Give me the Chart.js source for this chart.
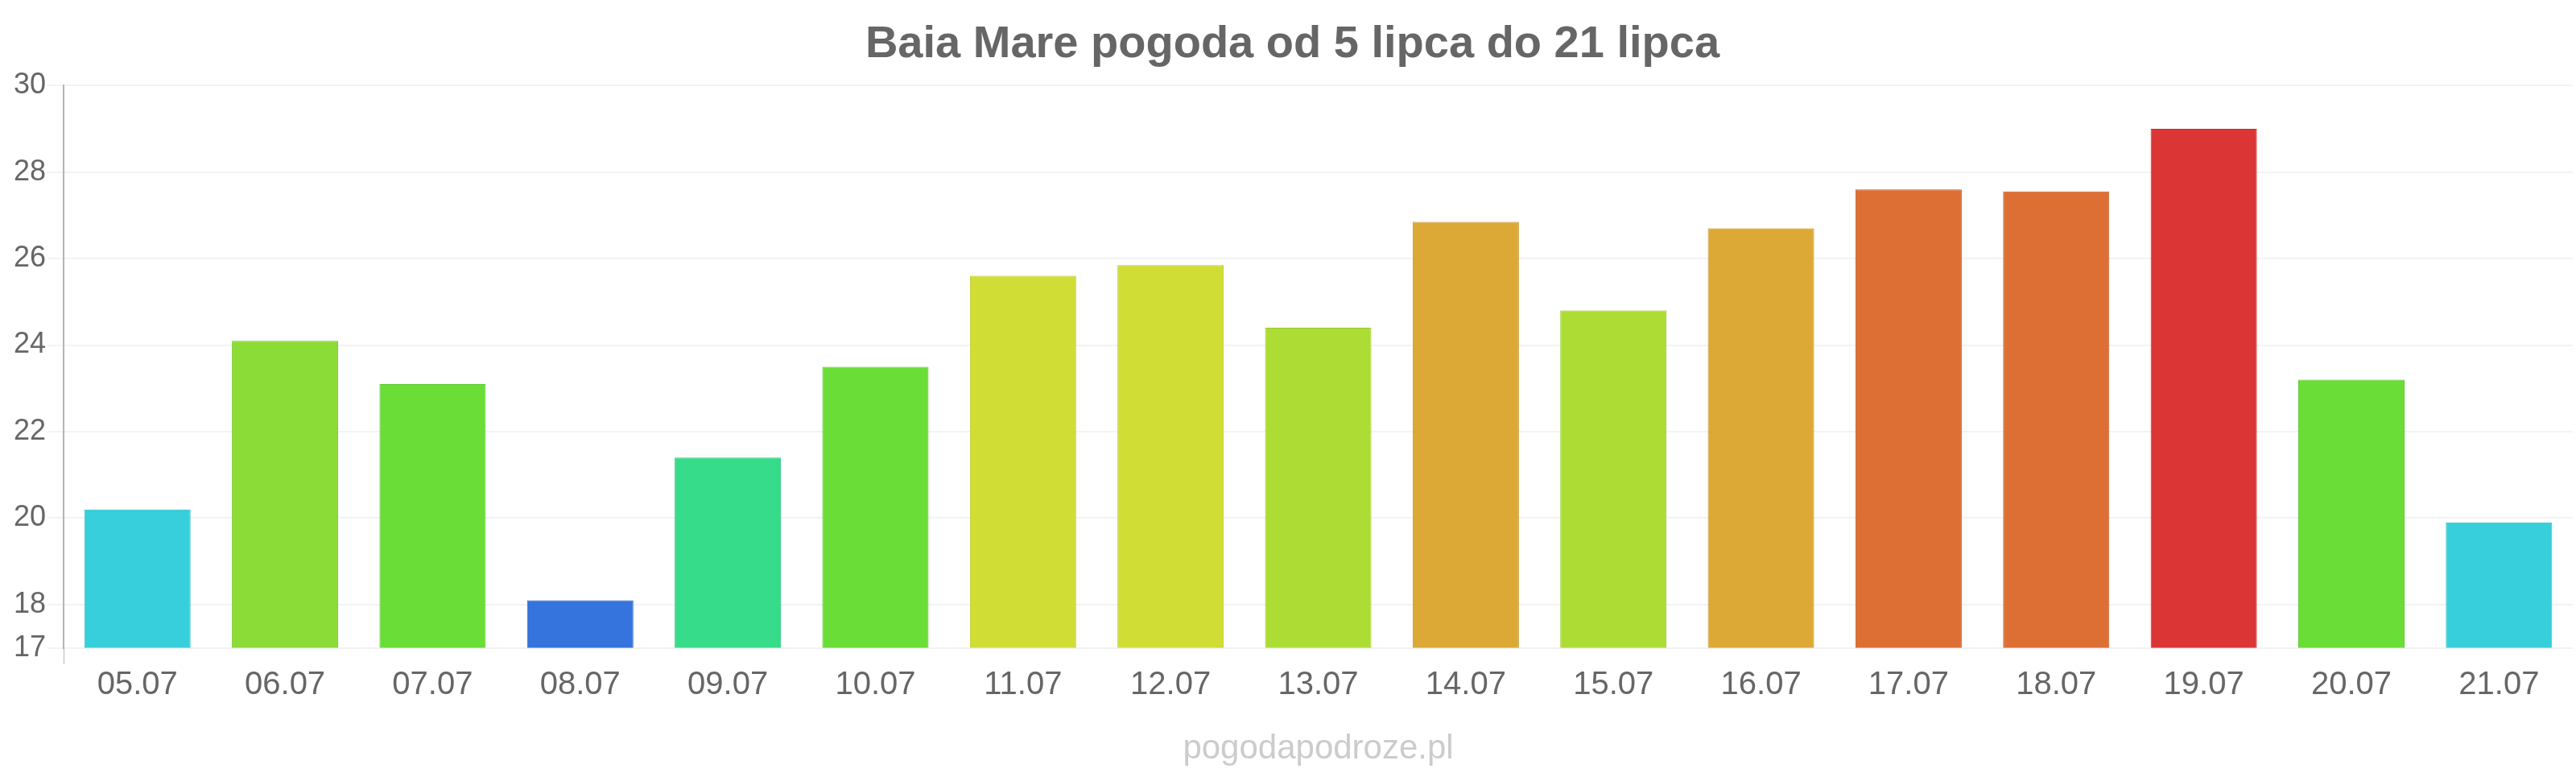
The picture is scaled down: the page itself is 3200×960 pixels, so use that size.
<!DOCTYPE html>
<html>
<head>
<meta charset="utf-8">
<script src="https://cdn.jsdelivr.net/npm/chart.js@4/dist/chart.umd.min.js"></script>
<style>
  html, body { margin: 0; padding: 0; background: #ffffff; }
  #wrap { width: 3200px; height: 960px; }
</style>
</head>
<body>
<div id="wrap"><canvas id="c" width="3200" height="960"></canvas></div>
<script>
const titleText = 'Baia Mare pogoda od 5 lipca do 21 lipca';
const sourceText = 'pogodapodroze.pl';
const days = ['05.07','06.07','07.07','08.07','09.07','10.07','11.07','12.07','13.07','14.07','15.07','16.07','17.07','18.07','19.07','20.07','21.07'];
const temps = [20.2, 24.1, 23.1, 18.1, 21.4, 23.5, 25.6, 25.85, 24.4, 26.85, 24.8, 26.7, 27.6, 27.55, 29.0, 23.2, 19.9];
const yTicks = [17, 18, 20, 22, 24, 26, 28, 30];
const fillColors = ['#36CFDB','#8CDC37','#6BDD37','#3474DC','#37DC8A','#6BDD37','#CFDD35','#CFDD35','#ADDD35','#DCA936','#ADDD35','#DCA936','#DD6F35','#DD6F35','#DB3535','#6BDD37','#36CFDB'];
const borderColors = ['#2DBCC8','#7CC92E','#5CC92E','#2B66C8','#2EC97A','#5CC92E','#BCC92C','#BCC92C','#9CC92C','#C9962D','#9CC92C','#C9962D','#C95F2C','#C95F2C','#C82C2C','#5CC92E','#2DBCC8'];

new Chart(document.getElementById('c'), {
  type: 'bar',
  data: {
    labels: days,
    datasets: [{
      data: temps,
      backgroundColor: fillColors,
      borderColor: borderColors,
      borderWidth: 1,
      categoryPercentage: 0.8,
      barPercentage: 0.9
    }]
  },
  options: {
    responsive: false,
    animation: false,
    devicePixelRatio: 1,
    layout: { padding: { left: 15, right: 4, top: 0, bottom: 4 } },
    plugins: {
      legend: { display: false },
      tooltip: { enabled: false },
      title: {
        display: true,
        text: titleText,
        color: '#666666',
        font: { family: 'Liberation Sans', size: 56, weight: 'bold' },
        padding: { top: 22, bottom: 17 }
      }
    },
    scales: {
      x: {
        offset: true,
        border: { display: false },
        grid: {
          display: true,
          drawOnChartArea: false,
          drawTicks: true,
          tickLength: 20,
          color: (ctx) => ctx.index === 0 ? '#b4b4b4' : 'rgba(0,0,0,0)'
        },
        ticks: {
          color: '#666666',
          font: { family: 'Liberation Sans', size: 40 },
          padding: 2
        },
        title: {
          display: true,
          text: sourceText,
          color: '#cccccc',
          font: { family: 'Liberation Sans', size: 42 },
          padding: { top: 29, bottom: 0 }
        }
      },
      y: {
        min: 17,
        max: 30,
        border: { display: true, color: '#b4b4b4', width: 2 },
        grid: {
          color: '#f3f3f3',
          lineWidth: 2,
          tickLength: 20
        },
        afterBuildTicks: (axis) => { axis.ticks = yTicks.map(v => ({ value: v })); },
        ticks: {
          color: '#666666',
          font: { family: 'Liberation Sans', size: 36 },
          padding: 2
        }
      }
    }
  }
});
</script>
</body>
</html>
